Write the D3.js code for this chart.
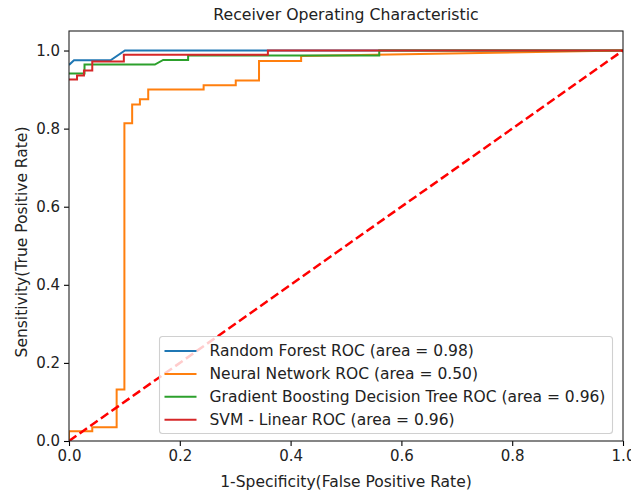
<!DOCTYPE html>
<html>
<head>
<meta charset="utf-8">
<script src="https://cdn.jsdelivr.net/npm/d3@7"></script>
<style>
  body { margin: 0; background: #fff; }
  svg { font-family: "DejaVu Sans", sans-serif; }
</style>
</head>
<body>
<svg id="roc" width="631" height="490"></svg>
<script>
// ROC points (false positive rate, true positive rate)
const fprRF = [0, 0.009, 0.075, 0.101, 1.0];
const tprRF = [0.963, 0.975, 0.975, 1.0, 1.0];

const fprNN = [0, 0, 0.042, 0.042, 0.086, 0.086, 0.100, 0.100, 0.114, 0.114, 0.128, 0.128, 0.143, 0.143, 0.243, 0.243, 0.301, 0.301, 0.343, 0.343, 0.419, 0.419, 1.0];
const tprNN = [0, 0.025, 0.025, 0.035, 0.035, 0.132, 0.132, 0.814, 0.814, 0.862, 0.862, 0.875, 0.875, 0.900, 0.900, 0.911, 0.911, 0.923, 0.923, 0.973, 0.973, 0.986, 1.0];

const fprGB = [0, 0.028, 0.028, 0.155, 0.170, 0.215, 0.215, 0.560, 0.560, 1.0];
const tprGB = [0.941, 0.941, 0.964, 0.964, 0.976, 0.976, 0.987, 0.987, 1.0, 1.0];

const fprSVM = [0, 0.0145, 0.0145, 0.027, 0.027, 0.042, 0.042, 0.099, 0.099, 0.359, 0.359, 1.0];
const tprSVM = [0.926, 0.926, 0.936, 0.936, 0.949, 0.949, 0.972, 0.972, 0.989, 0.989, 1.0, 1.0];

const seriesNames = [
  "Random Forest ROC (area = 0.98)",
  "Neural Network ROC (area = 0.50)",
  "Gradient Boosting Decision Tree ROC (area = 0.96)",
  "SVM - Linear ROC (area = 0.96)"
];
const seriesColors = ["#1f77b4", "#ff7f0e", "#2ca02c", "#d62728"];
const tickValues = [0, 0.2, 0.4, 0.6, 0.8, 1.0];

const series = [
  { x: fprRF, y: tprRF },
  { x: fprNN, y: tprNN },
  { x: fprGB, y: tprGB },
  { x: fprSVM, y: tprSVM }
].map((s, i) => ({
  name: seriesNames[i],
  color: seriesColors[i],
  points: s.x.map((v, j) => [v, s.y[j]])
}));

const W = 631, H = 490;
const margin = { top: 31, right: 8, bottom: 49, left: 69 };
const width = W - margin.left - margin.right;
const height = H - margin.top - margin.bottom;

const svg = d3.select("#roc");
const g = svg.append("g").attr("transform", `translate(${margin.left},${margin.top})`);

const x = d3.scaleLinear().domain([0, 1]).range([0, width]);
const y = d3.scaleLinear().domain([0, 1.05]).range([height, 0]);

g.append("clipPath").attr("id", "clip")
  .append("rect").attr("width", width).attr("height", height);

const line = d3.line().x(d => x(d[0])).y(d => y(d[1]));
const plot = g.append("g").attr("clip-path", "url(#clip)");

series.forEach(s => {
  plot.append("path")
    .datum(s.points)
    .attr("fill", "none")
    .attr("stroke", s.color)
    .attr("stroke-width", 2)
    .attr("d", line);
});

// chance diagonal
plot.append("path")
  .datum([[0, 0], [1, 1]])
  .attr("fill", "none")
  .attr("stroke", "red")
  .attr("stroke-width", 2.5)
  .attr("stroke-dasharray", "9,4")
  .attr("d", line);

// axes
const xAxis = d3.axisBottom(x).tickValues(tickValues).tickFormat(d3.format(".1f")).tickSize(5).tickPadding(4);
const yAxis = d3.axisLeft(y).tickValues(tickValues).tickFormat(d3.format(".1f")).tickSize(5).tickPadding(4);

const gx = g.append("g").attr("transform", `translate(0,${height})`).call(xAxis);
const gy = g.append("g").call(yAxis);
[gx, gy].forEach(a => {
  a.select(".domain").remove();
  a.selectAll("line").attr("stroke", "#000").attr("stroke-width", 1.1);
  a.selectAll("text").attr("fill", "#222").style("font-size", "15px").style("font-family", "DejaVu Sans");
});

g.append("rect")
  .attr("width", width).attr("height", height)
  .attr("fill", "none").attr("stroke", "#222").attr("stroke-width", 1.1);

// legend
const lg = svg.append("g").attr("transform", "translate(159.5,336.5)");
lg.append("rect")
  .attr("width", 453).attr("height", 97)
  .attr("rx", 3).attr("ry", 3)
  .attr("fill", "#fff").attr("fill-opacity", 0.8)
  .attr("stroke", "#d0d0d0").attr("stroke-width", 1.1);

series.forEach((s, i) => {
  const ry = 14.5 + i * 22.9;
  lg.append("line")
    .attr("x1", 5).attr("x2", 37)
    .attr("y1", ry).attr("y2", ry)
    .attr("stroke", s.color).attr("stroke-width", 2);
  lg.append("text")
    .attr("x", 50).attr("y", ry)
    .attr("dy", "0.35em")
    .attr("fill", "#222")
    .style("font-size", "15.5px")
    .text(s.name);
});

// titles
svg.append("text")
  .attr("x", margin.left + width / 2).attr("y", 20)
  .attr("text-anchor", "middle")
  .attr("fill", "#222")
  .style("font-size", "15.7px")
  .text("Receiver Operating Characteristic");

svg.append("text")
  .attr("x", margin.left + width / 2).attr("y", 487)
  .attr("text-anchor", "middle")
  .attr("fill", "#222")
  .style("font-size", "15.5px")
  .text("1-Specificity(False Positive Rate)");

svg.append("text")
  .attr("transform", `translate(27,242) rotate(-90)`)
  .attr("text-anchor", "middle")
  .attr("fill", "#222")
  .style("font-size", "15.5px")
  .text("Sensitivity(True Positive Rate)");
</script>
</body>
</html>
